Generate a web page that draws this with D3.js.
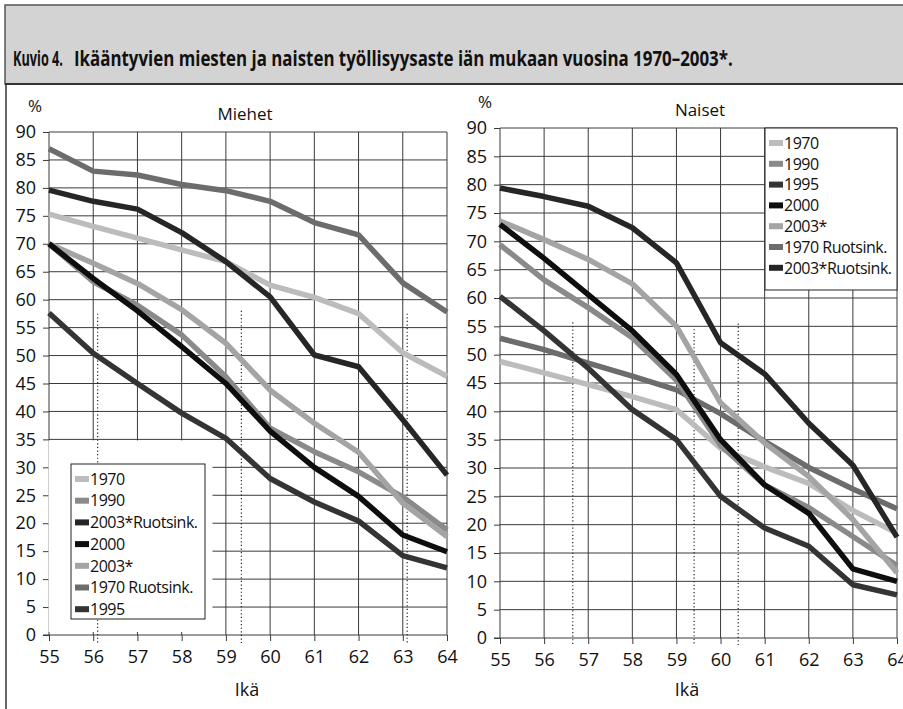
<!DOCTYPE html>
<meta charset="utf-8">
<script src="https://d3js.org/d3.v7.min.js"></script>
<style>
  body { margin: 0; background: #fff; }
  text { font-family: "Open Sans", sans-serif; fill: #111; }
</style>
<div id="chart"></div>
<script>

// ages on the x axis and the y tick values
const ages = [55, 56, 57, 58, 59, 60, 61, 62, 63, 64];
const yTicks = [0, 5, 10, 15, 20, 25, 30, 35, 40, 45, 50, 55, 60, 65, 70, 75, 80, 85, 90];

// Miehet (men), employment rate %
const men1970 = [75.3, 73.1, 71, 68.9, 66.8, 62.6, 60.4, 57.5, 50.5, 46.3];
const men1990 = [70, 63.2, 59, 53.7, 46.2, 37, 32.8, 29.2, 24.7, 18.8];
const men1995 = [57.6, 50.4, 45, 39.7, 35.2, 28, 23.8, 20.4, 14.2, 12];
const men2000 = [70, 63.8, 58, 51.6, 45, 36.5, 30, 24.8, 17.9, 14.9];
const men2003 = [70, 66.5, 62.9, 58.2, 52.2, 43.8, 37.9, 32.7, 23.6, 17.6];
const men1970Swe = [87, 83, 82.3, 80.6, 79.5, 77.6, 73.8, 71.6, 63, 57.8];
const men2003Swe = [79.6, 77.6, 76.2, 72, 66.8, 60.5, 50.1, 48, 38.5, 28.6];

// Naiset (women), employment rate %
const women1970 = [48.8, 46.8, 44.7, 42.6, 40.3, 33.5, 30.2, 27.3, 22.5, 18.5];
const women1990 = [69.4, 63.2, 58.3, 53, 45.5, 34, 27, 23, 17.9, 12.8];
const women1995 = [60.3, 54.2, 47.6, 40.3, 35, 25, 19.4, 16.2, 9.4, 7.6];
const women2000 = [73, 67, 60.6, 54.2, 46.5, 35, 27, 22, 12.2, 10];
const women2003 = [73.6, 70.3, 66.8, 62.5, 55, 41.5, 34.4, 28.5, 20.9, 11.5];
const women1970Swe = [52.9, 50.9, 48.5, 46.2, 43.8, 39.6, 34.7, 30.1, 26.3, 22.8];
const women2003Swe = [79.4, 77.9, 76.2, 72.4, 66.2, 52.1, 46.6, 37.9, 30.5, 17.8];

// dotted marker lines: age and the value where they start
const menMarkAge = [56.1, 59.35, 63.1];
const menMarkTop = [57.5, 58, 57.5];
const womenMarkAge = [56.65, 59.4, 60.4];
const womenMarkTop = [55.7, 54.5, 55.5];

// legend order per panel
const menLegend = ["1970", "1990", "2003*Ruotsink.", "2000", "2003*", "1970 Ruotsink.", "1995"];
const womenLegend = ["1970", "1990", "1995", "2000", "2003*", "1970 Ruotsink.", "2003*Ruotsink."];

const menSeries = {
  "1970": men1970, "1990": men1990, "1995": men1995, "2000": men2000,
  "2003*": men2003, "1970 Ruotsink.": men1970Swe, "2003*Ruotsink.": men2003Swe
};
const womenSeries = {
  "1970": women1970, "1990": women1990, "1995": women1995, "2000": women2000,
  "2003*": women2003, "1970 Ruotsink.": women1970Swe, "2003*Ruotsink.": women2003Swe
};

const colors = {
  "1970": "#bcbcbc",
  "1990": "#8a8a8a",
  "1995": "#343434",
  "2000": "#0e0e0e",
  "2003*": "#a4a4a4",
  "1970 Ruotsink.": "#6c6c6c",
  "2003*Ruotsink.": "#262626"
};

const W = 903, H = 709;
const svg = d3.select("#chart").append("svg")
  .attr("width", W).attr("height", H);

// squeeze a text to a given width around its anchor (reference font is narrower)
function fitTo(sel, w) {
  sel.each(function () {
    const f = w / this.getComputedTextLength();
    const ax = +d3.select(this).attr("x") || 0;
    d3.select(this).attr("transform",
      `translate(${ax},0) scale(${f},1) translate(${-ax},0)`);
  });
}

// title band
svg.append("rect").attr("x", 5).attr("y", 5).attr("width", W).attr("height", 79)
  .attr("fill", "#d3d3d3").attr("stroke", "#555").attr("stroke-width", 1.5);
svg.append("line").attr("x1", 5).attr("x2", W).attr("y1", 84).attr("y2", 84)
  .attr("stroke", "#333").attr("stroke-width", 2);
svg.append("line").attr("x1", 6).attr("x2", 6).attr("y1", 84).attr("y2", H)
  .attr("stroke", "#333").attr("stroke-width", 1.5);
svg.append("text").attr("x", 13).attr("y", 66)
  .attr("font-size", 21).attr("font-weight", 700)
  .text("Kuvio 4.")
  .call(fitTo, 50);
svg.append("text").attr("x", 74).attr("y", 66)
  .attr("font-size", 21).attr("font-weight", 700)
  .text("Ikääntyvien miesten ja naisten työllisyysaste iän mukaan vuosina 1970–2003*.")
  .call(fitTo, 659);

function panel(opt) {
  const x = d3.scaleLinear().domain([55, 64]).range([opt.x0, opt.x1]);
  const y = d3.scaleLinear().domain([0, 90]).range([opt.y0, opt.y1]);
  const g = svg.append("g");

  // grid
  g.selectAll(".hg").data(yTicks).join("line")
    .attr("x1", opt.x0).attr("x2", opt.x1)
    .attr("y1", d => y(d)).attr("y2", d => y(d))
    .attr("stroke", "#3a3a3a").attr("stroke-width", 1);
  g.selectAll(".vg").data(ages).join("line")
    .attr("x1", d => x(d)).attr("x2", d => x(d))
    .attr("y1", opt.y1).attr("y2", opt.y0)
    .attr("stroke", "#3a3a3a").attr("stroke-width", 1);

  // axes
  const ya = g.append("g").attr("transform", `translate(${opt.x0},0)`)
    .call(d3.axisLeft(y).tickValues(yTicks).tickSize(6).tickPadding(7));
  const xa = g.append("g").attr("transform", `translate(0,${opt.y0})`)
    .call(d3.axisBottom(x).tickValues(ages).tickSize(6).tickPadding(9));
  [ya, xa].forEach(a => {
    a.select(".domain").remove();
    a.attr("font-family", null).attr("font-size", null);
    a.selectAll("line").attr("stroke", "#3a3a3a");
    a.selectAll("text").attr("font-size", 18).attr("fill", "#111");
  });
  xa.append("line").attr("x1", opt.x0 - 6).attr("x2", opt.x0)
    .attr("stroke", "#3a3a3a");

  // white area behind legend (men panel)
  if (opt.mask) {
    g.append("rect").attr("x", opt.x0 - 0.5).attr("y", y(35) + 1)
      .attr("width", opt.mask - opt.x0).attr("height", y(0) - y(35) - 4)
      .attr("fill", "#fff");
  }

  // dotted markers
  g.selectAll(".mk").data(opt.markAge).join("line")
    .attr("x1", d => x(d)).attr("x2", d => x(d))
    .attr("y1", (d, i) => y(opt.markTop[i])).attr("y2", opt.y0 + 8)
    .attr("stroke", "#222").attr("stroke-width", 1.2)
    .attr("stroke-dasharray", "1.2,2.4");

  // lines
  const line = d3.line().x((d, i) => x(ages[i])).y(d => y(d));
  const order = ["1970 Ruotsink.", "1970", "1990", "2003*", "2000", "1995", "2003*Ruotsink."];
  g.selectAll(".ln").data(order).join("path")
    .attr("d", k => line(opt.series[k]))
    .attr("fill", "none").attr("stroke", k => colors[k])
    .attr("stroke-width", 5.5).attr("stroke-linejoin", "round");

  // labels
  g.append("text").attr("x", opt.pctX).attr("y", opt.y1 - 20)
    .attr("text-anchor", "middle").attr("font-size", 17).text("%");
  g.append("text").attr("x", opt.titleX).attr("y", opt.y1 - 12)
    .attr("text-anchor", "middle").attr("font-size", 17).text(opt.title);
  g.append("text").attr("x", opt.ikaX).attr("y", 696)
    .attr("text-anchor", "middle").attr("font-size", 18).text("Ikä");

  // legend
  const L = opt.legend;
  const lg = g.append("g");
  lg.append("rect").attr("x", L.x).attr("y", L.y).attr("width", L.w).attr("height", L.h)
    .attr("fill", "#fff").attr("stroke", "#222").attr("stroke-width", 1);
  opt.legendNames.forEach((k, i) => {
    const cy = L.first + i * L.step;
    lg.append("rect").attr("x", L.x + 4).attr("y", cy - 3).attr("width", 14).attr("height", 6)
      .attr("fill", colors[k]);
    lg.append("text").attr("x", L.x + 19).attr("y", cy).attr("dy", "0.36em")
      .attr("font-size", 16).attr("letter-spacing", -0.5).text(k);
  });
}

panel({
  x0: 49, x1: 447, y0: 635, y1: 132,
  series: menSeries, legendNames: menLegend,
  markAge: menMarkAge, markTop: menMarkTop,
  mask: 213,
  pctX: 35, titleX: 245, title: "Miehet", ikaX: 247,
  legend: { x: 71, y: 464, w: 134, h: 155, first: 479, step: 21.7 }
});

panel({
  x0: 500, x1: 897, y0: 638, y1: 128,
  series: womenSeries, legendNames: womenLegend,
  markAge: womenMarkAge, markTop: womenMarkTop,
  mask: null,
  pctX: 485, titleX: 700, title: "Naiset", ikaX: 687,
  legend: { x: 765, y: 128, w: 132, h: 162, first: 143, step: 20.8 }
});

</script>
